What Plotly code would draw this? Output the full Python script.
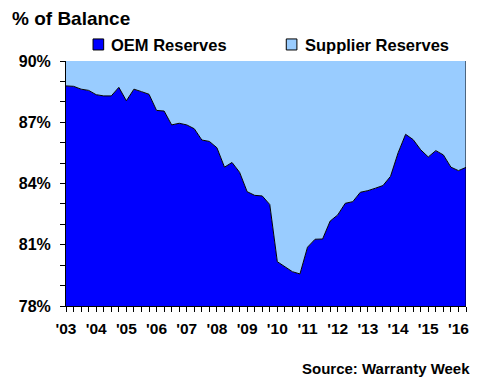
import plotly.graph_objects as go

year_labels = ["'03", "'04", "'05", "'06", "'07", "'08", "'09", "'10", "'11", "'12", "'13", "'14", "'15", "'16"]

# quarterly share of warranty reserve balance held by OEMs (%), 2003 Q1 .. 2016 Q2
oem_reserves = [
    88.78, 88.76, 88.62, 88.56, 88.35, 88.29, 88.29, 88.71, 88.05, 88.62,
    88.50, 88.37, 87.58, 87.55, 86.87, 86.95, 86.87, 86.68, 86.13, 86.06,
    85.75, 84.80, 85.03, 84.55, 83.60, 83.42, 83.39, 82.97, 80.17, 79.93,
    79.68, 79.57, 80.88, 81.27, 81.28, 82.16, 82.46, 83.03, 83.11, 83.57,
    83.65, 83.77, 83.90, 84.35, 85.50, 86.41, 86.15, 85.65, 85.30, 85.61,
    85.40, 84.80, 84.63, 84.79,
]
supplier_reserves = [round(100 - v, 2) for v in oem_reserves]
quarters = list(range(len(oem_reserves)))

OEM_COLOR = "#0000FF"
SUP_COLOR = "#99CCFF"
FONT = "Liberation Sans, Arial, sans-serif"

fig = go.Figure()
fig.add_trace(go.Scatter(
    x=quarters, y=oem_reserves, name="OEM Reserves", stackgroup="one",
    mode="lines", line=dict(color="black", width=1), fillcolor=OEM_COLOR,
    showlegend=False, hoverinfo="skip",
))
fig.add_trace(go.Scatter(
    x=quarters, y=supplier_reserves, name="Supplier Reserves", stackgroup="one",
    mode="lines", line=dict(color="black", width=0), fillcolor=SUP_COLOR,
    showlegend=False, hoverinfo="skip",
))

tick_positions = [i * 4 for i in range(len(year_labels))]

fig.update_xaxes(
    range=[0, len(quarters) - 1],
    tickvals=tick_positions, ticktext=year_labels,
    ticks="outside", ticklen=5, tickcolor="black", tickwidth=1,
    minor=dict(dtick=1, tick0=0, ticks="outside", ticklen=5, tickcolor="black"),
    showline=True, linecolor="black", linewidth=1,
    showgrid=False, zeroline=False,
    tickfont=dict(family=FONT, size=15.5, color="black", weight="bold"),
    ticklabelstandoff=3,
)
fig.update_yaxes(
    range=[78, 90], tick0=78, dtick=3, ticksuffix="%",
    ticks="outside", ticklen=5, tickcolor="black", tickwidth=1,
    minor=dict(dtick=1, ticks="outside", ticklen=5, tickcolor="black"),
    showline=True, linecolor="black", linewidth=1,
    showgrid=False, zeroline=False,
    tickfont=dict(family=FONT, size=16, color="black", weight="bold"),
    ticklabelstandoff=6,
)

shapes = [
    dict(type="line", xref="x", yref="paper", x0=len(quarters) - 1, x1=len(quarters) - 1,
         y0=0, y1=1, line=dict(color="black", width=1)),
    dict(type="rect", xref="paper", yref="paper", x0=0.0676, x1=0.0942, y0=1.045, y1=1.090,
         fillcolor=OEM_COLOR, line=dict(color="black", width=1)),
    dict(type="rect", xref="paper", yref="paper", x0=0.5507, x1=0.5773, y0=1.045, y1=1.090,
         fillcolor=SUP_COLOR, line=dict(color="black", width=1)),
]

annotations = [
    dict(text="OEM Reserves", xref="paper", yref="paper", x=0.1087, y=1.067,
         xanchor="left", yanchor="middle", showarrow=False,
         font=dict(family=FONT, size=16.5, color="black", weight="bold")),
    dict(text="Supplier Reserves", xref="paper", yref="paper", x=0.5918, y=1.067,
         xanchor="left", yanchor="middle", showarrow=False,
         font=dict(family=FONT, size=16.5, color="black", weight="bold")),
    dict(text="Source: Warranty Week", xref="paper", yref="paper", x=1.0145, y=-0.257,
         xanchor="right", yanchor="middle", showarrow=False,
         font=dict(family=FONT, size=15, color="black", weight="bold")),
]

# the page adds an 8px body margin, so the figure is 8px smaller in each direction
fig.update_layout(
    width=472, height=372,
    margin=dict(l=47, r=11, t=53, b=74),
    paper_bgcolor="white", plot_bgcolor="white",
    title=dict(text="% of Balance", x=4 / 472, xanchor="left", xref="container",
               y=1 - 10 / 372, yanchor="middle", yref="container",
               font=dict(family=FONT, size=19, color="black", weight="bold")),
    shapes=shapes, annotations=annotations,
    showlegend=False,
)

fig.write_html("out.html")
